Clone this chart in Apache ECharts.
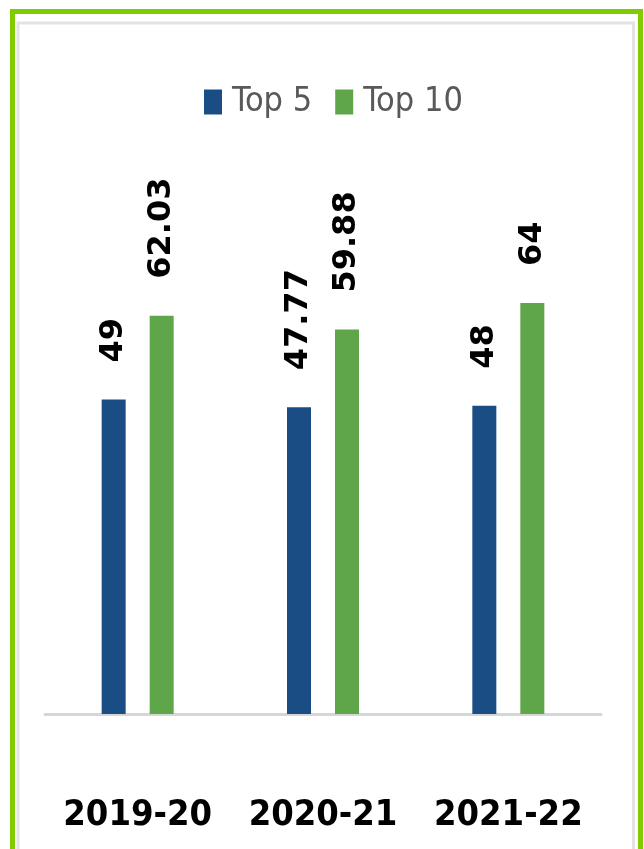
<!DOCTYPE html>
<html>
<head>
<meta charset="utf-8">
<script src="https://cdn.jsdelivr.net/npm/echarts@6/dist/echarts.min.js"></script>
<style>
  html, body { margin: 0; padding: 0; background: #ffffff; }
  #chart { width: 644px; height: 849px; }
</style>
</head>
<body>
<div id="chart"></div>
<script>
const categories = ['2019-20', '2020-21', '2021-22'];
const seriesNames = ['Top 5', 'Top 10'];
const top5Values = [49, 47.77, 48];
const top10Values = [62.03, 59.88, 64];

const chart = echarts.init(document.getElementById('chart'), null, { renderer: 'canvas' });

const narrowFont = "'DejaVu Sans Condensed', 'Liberation Sans Narrow', sans-serif";
const valueLabel = {
  show: true,
  position: 'top',
  rotate: 90,
  align: 'left',
  verticalAlign: 'middle',
  distance: 37,
  color: '#000000',
  fontFamily: "'DejaVu Sans', Verdana, sans-serif",
  fontWeight: 'bold',
  fontSize: 32
};

chart.setOption({
  animation: false,
  backgroundColor: '#ffffff',
  graphic: [
    {
      type: 'rect',
      z: -10,
      silent: true,
      shape: { x: 18, y: 23, width: 615.5, height: 900 },
      style: { fill: 'none', stroke: '#e3e3e3', lineWidth: 3 }
    },
    {
      type: 'rect',
      z: 100,
      silent: true,
      shape: { x: 12.5, y: 11.5, width: 628, height: 900 },
      style: { fill: 'none', stroke: '#7fcc00', lineWidth: 5 }
    }
  ],
  legend: {
    data: seriesNames,
    left: 199,
    top: 80,
    itemWidth: 18,
    itemHeight: 25,
    itemGap: 23,
    icon: 'rect',
    textStyle: {
      fontFamily: narrowFont,
      fontSize: 34,
      color: '#595959',
      padding: [0, 0, 0, 5]
    }
  },
  grid: {
    left: 45,
    right: 43,
    top: 72,
    bottom: 135,
    containLabel: false
  },
  xAxis: {
    type: 'category',
    data: categories,
    axisTick: { show: false },
    axisLine: { show: true, lineStyle: { color: '#d6d6d6', width: 3 } },
    axisLabel: {
      interval: 0,
      margin: 84,
      color: '#000000',
      fontFamily: narrowFont,
      fontWeight: 'bold',
      fontSize: 36
    }
  },
  yAxis: {
    type: 'value',
    min: 0,
    max: 100,
    show: false,
    splitLine: { show: false }
  },
  series: [
    {
      name: seriesNames[0],
      type: 'bar',
      data: top5Values,
      barWidth: 24,
      barGap: '100%',
      itemStyle: { color: '#1b4d85' },
      label: valueLabel
    },
    {
      name: seriesNames[1],
      type: 'bar',
      data: top10Values,
      barWidth: 24,
      barGap: '100%',
      itemStyle: { color: '#5fa64a' },
      label: valueLabel
    }
  ]
});
</script>
</body>
</html>
